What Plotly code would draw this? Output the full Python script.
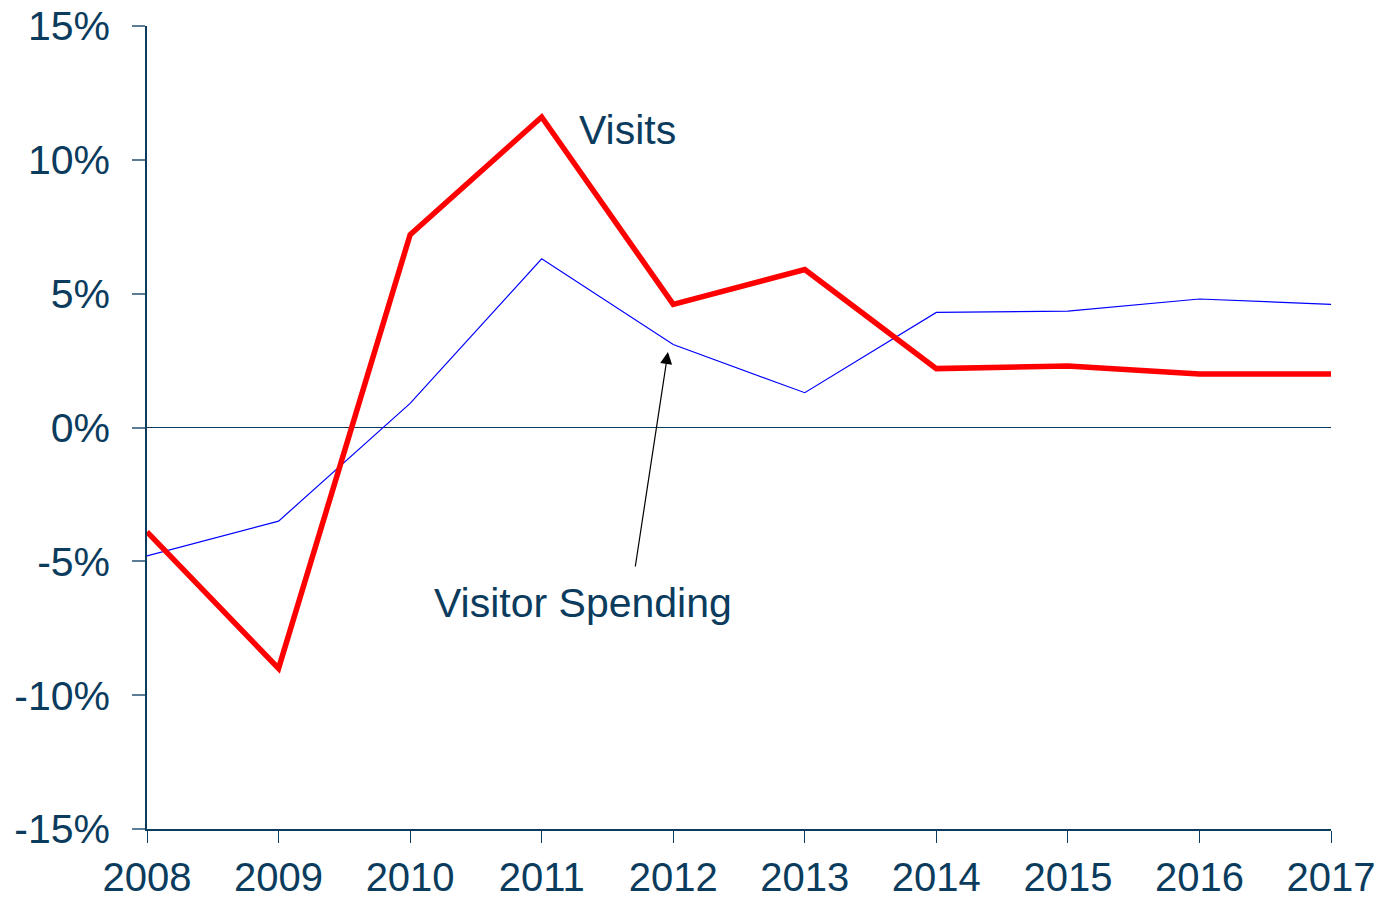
import plotly.graph_objects as go

years = [2008, 2009, 2010, 2011, 2012, 2013, 2014, 2015, 2016, 2017]
visits = [-3.9, -9.0, 7.2, 11.6, 4.6, 5.9, 2.2, 2.3, 2.0, 2.0]
spending = [-4.8, -3.5, 0.9, 6.3, 3.1, 1.3, 4.3, 4.35, 4.8, 4.6]
y_ticks = [-15, -10, -5, 0, 5, 10, 15]
y_labels = ["-15%", "-10%", "-5%", "0%", "5%", "10%", "15%"]

TXT = "#0b3c5d"
FONT = "Liberation Sans, Arial, sans-serif"
FS = 41

fig = go.Figure()
fig.add_trace(go.Scatter(x=years, y=spending, mode="lines", name="Visitor Spending",
                         line=dict(color="#0000ff", width=1.2)))
fig.add_trace(go.Scatter(x=years, y=visits, mode="lines", name="Visits",
                         line=dict(color="#ff0000", width=5.5)))

fig.add_annotation(x=2011.27, y=11.1, text="Visits", showarrow=False,
                   xanchor="left", yanchor="middle", font=dict(size=FS, color=TXT, family=FONT))
fig.add_annotation(x=2010.17, y=-6.56, text="Visitor Spending", showarrow=False,
                   xanchor="left", yanchor="middle", font=dict(size=FS, color=TXT, family=FONT))
fig.add_annotation(x=2011.96, y=2.82, ax=2011.71, ay=-5.25, axref="x", ayref="y",
                   text="", showarrow=True, arrowhead=2, arrowsize=2, arrowwidth=1.2,
                   arrowcolor="#000000")

fig.update_layout(
    width=1386, height=898,
    margin=dict(l=147, r=55, t=26, b=69),
    paper_bgcolor="white", plot_bgcolor="white",
    showlegend=False,
    font=dict(family=FONT, size=FS, color=TXT),
)
fig.update_xaxes(range=[2008, 2017], tickvals=years, ticktext=[str(y) for y in years],
                 automargin=False, ticklabeloverflow="allow",
                 showgrid=False, zeroline=False, showline=True, linecolor=TXT, linewidth=1.5,
                 ticks="outside", ticklen=12, tickcolor=TXT, tickwidth=1,
                 ticklabelstandoff=0,
                 tickfont=dict(size=40, color=TXT, family=FONT))
fig.update_yaxes(range=[-15, 15], tickvals=y_ticks, ticktext=y_labels,
                 automargin=False, ticklabeloverflow="allow",
                 showgrid=False, zeroline=True, zerolinecolor=TXT, zerolinewidth=1,
                 showline=True, linecolor=TXT, linewidth=1.5,
                 ticks="outside", ticklen=13, tickcolor="#5a7d95", tickwidth=1.5,
                 ticklabelstandoff=14,
                 tickfont=dict(size=FS, color=TXT, family=FONT))

fig.write_html("out.html", config={"displayModeBar": False},
               post_script="document.body.style.margin='0';document.body.style.overflow='hidden';")
